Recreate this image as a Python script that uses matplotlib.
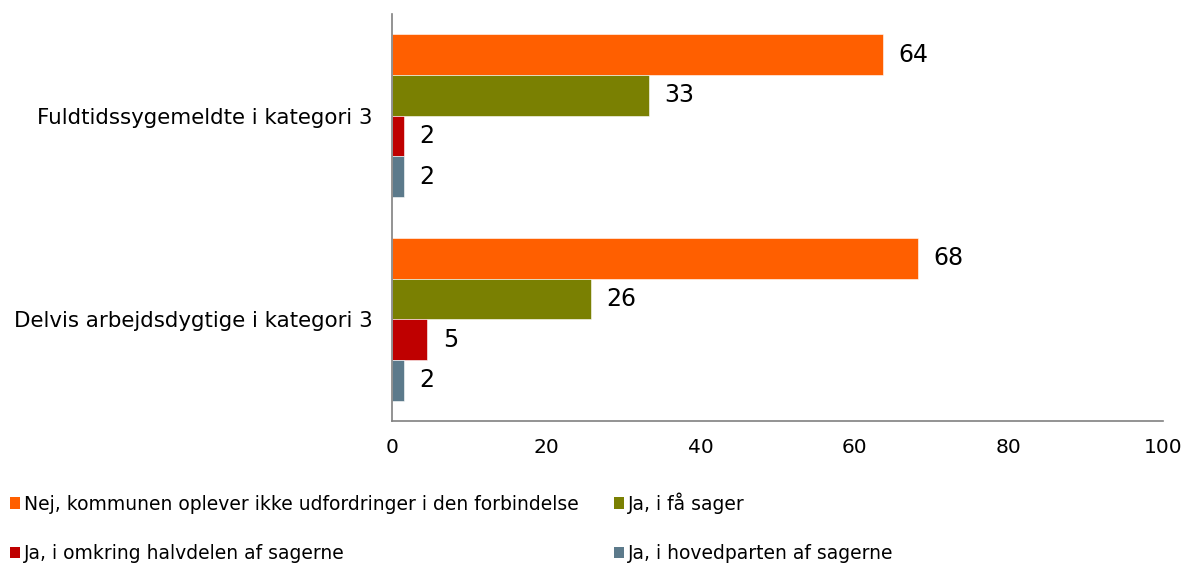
import matplotlib.pyplot as plt
import numpy as np
from matplotlib.patches import Patch

# data (labels show rounded values)
categories = ['Fuldtidssygemeldte i kategori 3', 'Delvis arbejdsdygtige i kategori 3']
series_names = ['Nej, kommunen oplever ikke udfordringer i den forbindelse',
                'Ja, i få sager',
                'Ja, i omkring halvdelen af sagerne',
                'Ja, i hovedparten af sagerne']
nej_vals = [63.7, 68.2]
faa_vals = [33.3, 25.8]
halv_vals = [1.5, 4.6]
hoved_vals = [1.5, 1.5]
xticks = [0, 20, 40, 60, 80, 100]

colors = ['#FF5F00', '#7A8002', '#BF0000', '#5C7A8B']
all_vals = [nej_vals, faa_vals, halv_vals, hoved_vals]

fig = plt.figure(figsize=(11.87, 5.65), dpi=100)
ax = fig.add_axes([392/1187, 1 - 421/565, (1163-392)/1187, (421-14)/565])

y = np.arange(len(categories))
h = 0.2
offsets = [-0.3, -0.1, 0.1, 0.3]
for vals, off, col, name in zip(all_vals, offsets, colors, series_names):
    bars = ax.barh(y + off, vals, height=h, color=col, edgecolor='white', linewidth=0.4, label=name)
    ax.bar_label(bars, labels=['%d' % round(v) for v in vals], padding=11, fontsize=17)

ax.set_ylim(1.5, -0.5)
ax.set_xlim(0, 100)
ax.set_xticks(xticks)
ax.set_yticks(y)
ax.set_yticklabels(categories, fontsize=15.4)
ax.tick_params(axis='x', length=0, labelsize=14.5, pad=12)
ax.tick_params(axis='y', length=0, pad=14)
for s in ['top', 'right']:
    ax.spines[s].set_visible(False)
for s in ['left', 'bottom']:
    ax.spines[s].set_color('#808080')
    ax.spines[s].set_linewidth(1.2)

# legend filled row by row like the original
handles = [Patch(facecolor=c, label=n) for c, n in zip(colors, series_names)]
order = [0, 2, 1, 3]
fig.legend(handles=[handles[i] for i in order], loc='upper left', bbox_to_anchor=(10/1187, 1 - 492/565),
           ncol=2, frameon=False, fontsize=13.5, handlelength=0.55, handleheight=0.55,
           handletextpad=0.2, columnspacing=1.87, labelspacing=1.65, borderpad=0, borderaxespad=0)

plt.savefig('out.png', dpi=100)
